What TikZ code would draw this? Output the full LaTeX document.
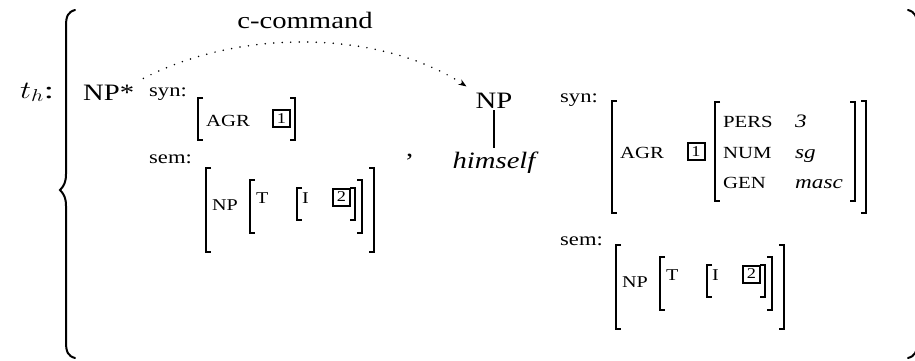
\documentclass[tikz,border=0pt]{standalone}
\usepackage{fontspec}
\usepackage{graphicx}
\setmainfont{Liberation Serif}[FakeStretch=1.22,
  ItalicFont=Liberation Serif Italic]
\usetikzlibrary{arrows.meta}

\begin{document}
\begin{tikzpicture}[x=1pt, y=-1pt,
  every node/.style={inner sep=0pt},
  cat/.style={font=\fontsize{23.5}{28}\selectfont, inner xsep=9pt, inner ysep=6pt},
  lbl/.style={font=\fontsize{18.5}{22}\selectfont, anchor=base west},
  feat/.style={font=\fontsize{17}{20}\selectfont, anchor=base west},
  sm/.style={font=\fontsize{16.5}{20}\selectfont, anchor=base west},
  val/.style={font=\fontsize{19}{22}\selectfont\itshape, anchor=base west},
  tag/.style={draw, line width=2pt, minimum width=17pt, minimum height=17pt,
    font=\fontsize{15}{17}\selectfont},
  bracket/.style={line width=1.2pt},
  brace/.style={line width=2pt, line cap=round},
  dots/.style={line width=1.7pt, dash pattern=on 0pt off 8.5pt, line cap=round}]
  \useasboundingbox (0,0) rectangle (915,360);
  \clip (0,0) rectangle (915,360);

  % braces
  \draw[brace] (75,10) .. controls (68,12) and (66,16) .. (66,26) -- (66,174)
    .. controls (66,182) and (64,186) .. (60,190)
    .. controls (64,194) and (66,198) .. (66,206) -- (66,342)
    .. controls (66,352) and (68,356) .. (75,358);
  \draw[brace] (908,10) .. controls (915,12) and (917,16) .. (917,26) -- (917,174)
    .. controls (917,182) and (919,186) .. (923,190)
    .. controls (919,194) and (917,198) .. (917,206) -- (917,342)
    .. controls (917,352) and (915,356) .. (908,358);

  \node[anchor=base west, font=\fontsize{24}{28}\selectfont] (th) at (20,98)
    {\scalebox{1.25}[1]{$t_h$:}};

  % trees
  \node[cat, anchor=base west] (npstar) at (74,100) {NP*};
  \node[cat, anchor=base] (np) at (494,108) {NP};
  \node[cat, anchor=base] (himself) at (494,168) {\itshape himself};
  \node[cat, anchor=base west] (comma) at (397,156) {,};
  \draw[line width=1.6pt, shorten <=2pt, shorten >=-3pt] (np.base) -- (himself.north);

  \node[cat, anchor=base] (cc) at (305,28) {c-command};
  \draw[dots, -{Stealth[length=8pt, width=6pt]}] (npstar.north east)
    .. controls (240,28) and (380,30) .. (np.north west);

  % matrices
  \foreach \l/\r/\t/\b in {198/295/98/140, 206/374/168/252, 250/362/180/233,
      297/355/188/220, 612/866/101/213, 715/855/102/201, 616/784/245/329,
      660/772/257/310, 707/765/265/297}
    \draw[bracket] (\l+5,\t) -- (\l,\t) -- (\l,\b) -- (\l+5,\b)
      (\r-5,\t) -- (\r,\t) -- (\r,\b) -- (\r-5,\b);

  % left
  \node[lbl] (synL) at (149,96) {syn:};
  \node[feat] (agrL) at (206,126) {AGR};
  \node[tag] (tagL1) at (281.5,118.5) {1};
  \node[lbl] (semL) at (149,163) {sem:};
  \node[sm] (npL) at (212,210) {NP};
  \node[sm] (tL) at (256,203) {T};
  \node[sm] (iL) at (302,203) {I};
  \node[tag] (tagL2) at (341.5,197) {2};

  % right
  \node[lbl] (synR) at (560,102) {syn:};
  \node[feat] (agrR) at (620,158) {AGR};
  \node[tag] (tagR1) at (696,151.5) {1};
  \node[feat] (pers) at (723,127) {PERS};
  \node[feat] (num) at (723,158) {NUM};
  \node[feat] (gen) at (723,188) {GEN};
  \node[val] (pers3) at (795,127) {3};
  \node[val] (numsg) at (795,158) {sg};
  \node[val] (genmasc) at (795,188) {masc};
  \node[lbl] (semR) at (560,245) {sem:};
  \node[sm] (npR) at (622,287) {NP};
  \node[sm] (tR) at (666,280) {T};
  \node[sm] (iR) at (712,280) {I};
  \node[tag] (tagR2) at (751.5,274) {2};
\end{tikzpicture}
\end{document}
